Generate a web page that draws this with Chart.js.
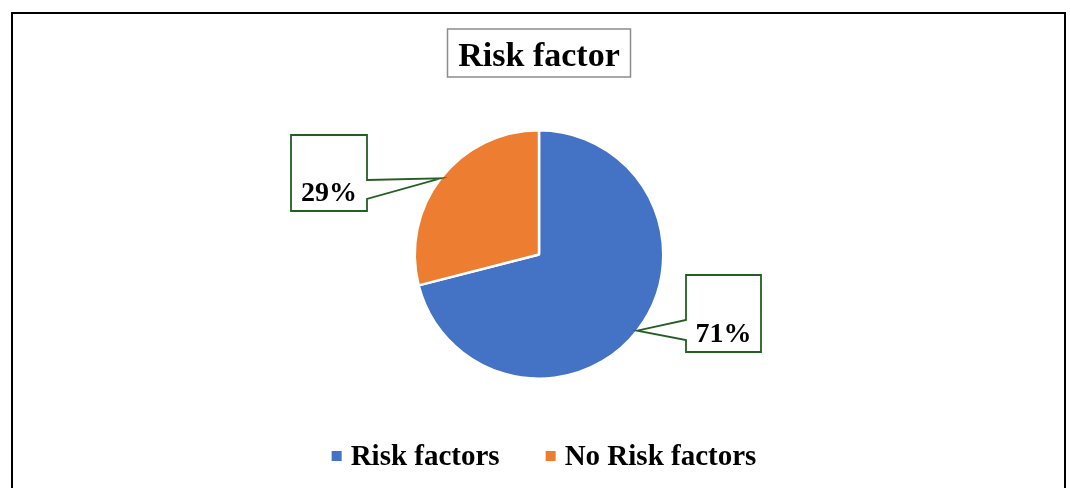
<!DOCTYPE html>
<html>
<head>
<meta charset="utf-8">
<script src="https://cdn.jsdelivr.net/npm/chart.js@4.4.1/dist/chart.umd.min.js"></script>
<style>
  html, body { margin: 0; padding: 0; background: #ffffff; }
  #wrap { position: relative; width: 1070px; height: 488px; }
</style>
</head>
<body>
<div id="wrap"><canvas id="c" width="1070" height="488"></canvas></div>
<script>
const chartTitle = 'Risk factor';
const categories = ['Risk factors', 'No Risk factors'];
const values = [71, 29];
const valueLabels = ['71%', '29%'];
const colors = ['#4472C4', '#ED7D31'];

const SERIF = '"Liberation Serif", "Times New Roman", serif';

const decorPlugin = {
  id: 'decor',
  beforeDraw(chart) {
    const ctx = chart.ctx;
    ctx.save();
    ctx.fillStyle = '#ffffff';
    ctx.fillRect(0, 0, chart.width, chart.height);
    ctx.strokeStyle = '#000000';
    ctx.lineWidth = 2;
    ctx.strokeRect(12, 13, 1053, 520);
    ctx.restore();
  },
  afterDraw(chart, args, opts) {
    const ctx = chart.ctx;
    ctx.save();
    // Title box
    ctx.font = 'bold 34px ' + SERIF;
    ctx.textAlign = 'center';
    ctx.textBaseline = 'alphabetic';
    ctx.fillStyle = '#000000';
    ctx.fillText(chartTitle, 539, 66);
    ctx.strokeStyle = '#8c8c8c';
    ctx.lineWidth = 1.5;
    ctx.strokeRect(447.5, 29, 183, 48);

    // Callouts
    const meta = chart.getDatasetMeta(0);
    const boxes = opts.callouts;
    meta.data.forEach((arc, i) => {
      const p = arc.getProps(['x', 'y', 'startAngle', 'endAngle', 'outerRadius'], true);
      const mid = (p.startAngle + p.endAngle) / 2;
      const tx = p.x + Math.cos(mid) * p.outerRadius;
      const ty = p.y + Math.sin(mid) * p.outerRadius;
      const b = boxes[i];
      ctx.beginPath();
      if (b.side === 'left') {
        ctx.moveTo(b.x, b.y);
        ctx.lineTo(b.x + b.w, b.y);
        ctx.lineTo(b.x + b.w, b.y + b.h);
        ctx.lineTo(b.x, b.y + b.h);
        ctx.lineTo(b.x, b.p2);
        ctx.lineTo(tx, ty);
        ctx.lineTo(b.x, b.p1);
        ctx.closePath();
      } else {
        ctx.moveTo(b.x, b.y);
        ctx.lineTo(b.x + b.w, b.y);
        ctx.lineTo(b.x + b.w, b.p1);
        ctx.lineTo(tx, ty);
        ctx.lineTo(b.x + b.w, b.p2);
        ctx.lineTo(b.x + b.w, b.y + b.h);
        ctx.lineTo(b.x, b.y + b.h);
        ctx.closePath();
      }
      ctx.fillStyle = '#ffffff';
      ctx.fill();
      ctx.strokeStyle = '#235E23';
      ctx.lineWidth = 1.8;
      ctx.lineJoin = 'miter';
      ctx.stroke();
      ctx.fillStyle = '#000000';
      ctx.font = 'bold 28px ' + SERIF;
      ctx.textAlign = 'center';
      ctx.fillText(valueLabels[i], b.x + b.w / 2, b.y + b.h - 10);
    });

    // Legend
    ctx.font = 'bold 29px ' + SERIF;
    ctx.textAlign = 'left';
    const sq = 10, gapTxt = 9, gapItem = 46;
    const widths = categories.map(t => ctx.measureText(t).width);
    let total = 0;
    widths.forEach((w, i) => { total += sq + gapTxt + w + (i < widths.length - 1 ? gapItem : 0); });
    let x = 544 - total / 2;
    categories.forEach((t, i) => {
      ctx.fillStyle = colors[i];
      ctx.fillRect(x, 451, sq, sq);
      ctx.fillStyle = '#000000';
      ctx.fillText(t, x + sq + gapTxt, 465);
      x += sq + gapTxt + widths[i] + gapItem;
    });
    ctx.restore();
  }
};

new Chart(document.getElementById('c'), {
  type: 'pie',
  data: {
    labels: categories,
    datasets: [{
      data: values,
      backgroundColor: colors,
      borderColor: '#ffffff',
      borderWidth: 2.5
    }]
  },
  options: {
    responsive: false,
    animation: false,
    layout: { padding: { top: 129, bottom: 108, left: 8, right: 0 } },
    plugins: {
      legend: { display: false },
      title: { display: false },
      tooltip: { enabled: false },
      decor: {
        callouts: [
          { x: 686, y: 275, w: 75, h: 77, side: 'left', p1: 320, p2: 340 },
          { x: 291, y: 135, w: 76, h: 76, side: 'right', p1: 180, p2: 199 }
        ]
      }
    }
  },
  plugins: [decorPlugin]
});
</script>
</body>
</html>
